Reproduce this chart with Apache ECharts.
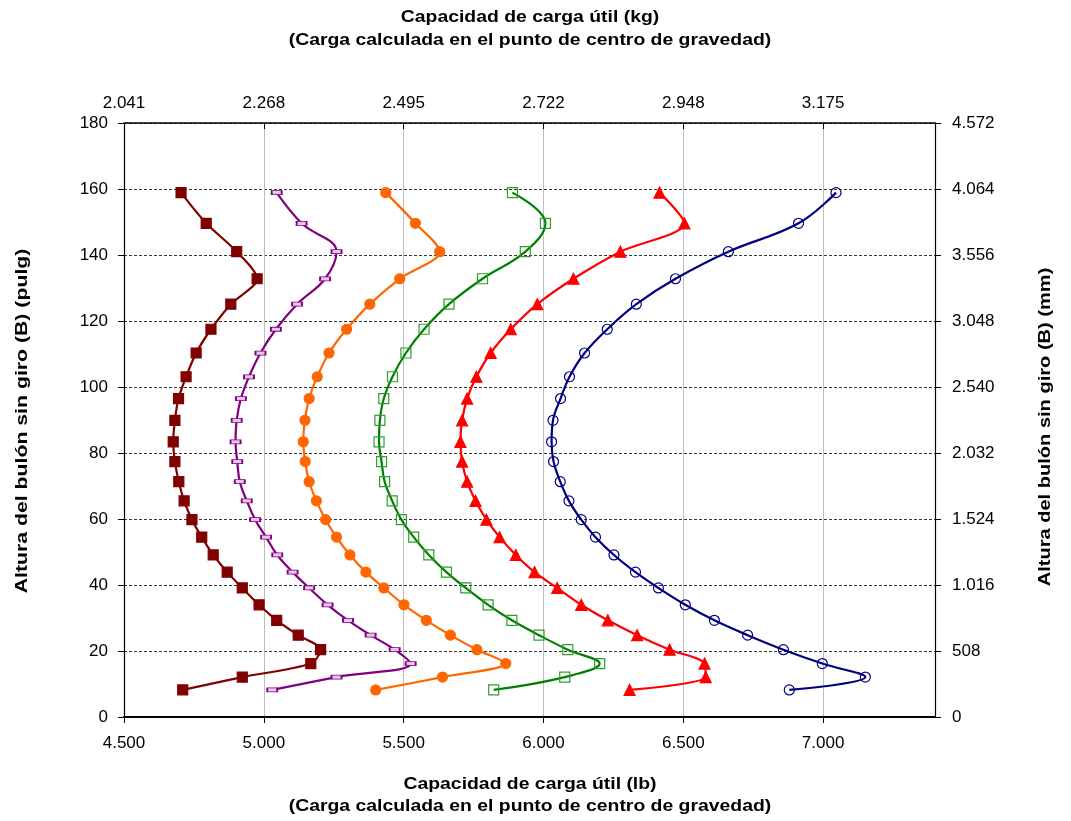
<!DOCTYPE html>
<html>
<head>
<meta charset="utf-8">
<script src="https://cdn.jsdelivr.net/npm/echarts@6/dist/echarts.min.js"></script>
<style>html,body{margin:0;padding:0;background:#fff;}#c{width:1071px;height:821px;}</style>
</head>
<body>
<div id="c"></div>
<script>
// Heights (pulg), shared by all curves, from bottom to top
const heights = [8.2, 12.1, 16.2, 20.4, 24.8, 29.3, 34.0, 39.1, 43.9, 49.1, 54.5, 59.8, 65.5, 71.3, 77.4, 83.4, 89.9, 96.5, 103.1, 110.3, 117.5, 125.1, 132.8, 141.0, 149.6, 158.9];
// Capacity (lb) for each curve, same order as heights
const capDarkRed = [4710, 4923, 5168, 5203, 5123, 5046, 4983, 4923, 4869, 4819, 4778, 4743, 4715, 4696, 4682, 4676, 4682, 4695, 4722, 4758, 4811, 4882, 4976, 4903, 4794, 4704];
const capPurple  = [5030, 5260, 5525, 5468, 5382, 5301, 5228, 5162, 5103, 5048, 5008, 4969, 4939, 4914, 4905, 4899, 4903, 4918, 4947, 4988, 5043, 5119, 5219, 5260, 5135, 5046];
const capOrange  = [5400, 5639, 5865, 5762, 5667, 5581, 5501, 5429, 5365, 5308, 5260, 5221, 5188, 5162, 5148, 5141, 5147, 5162, 5191, 5233, 5296, 5379, 5486, 5629, 5542, 5436];
const capGreen   = [5822, 6076, 6201, 6087, 5984, 5887, 5802, 5722, 5653, 5590, 5536, 5492, 5459, 5432, 5421, 5412, 5415, 5429, 5460, 5508, 5573, 5662, 5782, 5935, 6007, 5889];
const capRed     = [6308, 6580, 6576, 6451, 6335, 6230, 6135, 6049, 5968, 5901, 5843, 5796, 5757, 5727, 5709, 5703, 5709, 5727, 5760, 5811, 5883, 5978, 6107, 6275, 6504, 6415];
const capNavy    = [6879, 7151, 6997, 6858, 6730, 6611, 6507, 6411, 6329, 6252, 6186, 6135, 6091, 6060, 6036, 6029, 6034, 6061, 6093, 6147, 6228, 6332, 6472, 6661, 6912, 7046];
// Tick labels
const lbLabels = ['4.500', '5.000', '5.500', '6.000', '6.500', '7.000'];
const kgLabels = ['2.041', '2.268', '2.495', '2.722', '2.948', '3.175'];
const mmLabels = ['0', '508', '1.016', '1.524', '2.032', '2.540', '3.048', '3.556', '4.064', '4.572'];
// Titles
const titleTop = ['Capacidad de carga útil (kg)', '(Carga calculada en el punto de centro de gravedad)'];
const titleBottom = ['Capacidad de carga útil (lb)', '(Carga calculada en el punto de centro de gravedad)'];
const titleLeft = 'Altura del bulón sin giro (B) (pulg)';
const titleRight = 'Altura del bulón sin giro (B) (mm)';

const FONT = '"Liberation Sans", Arial, sans-serif';
const chart = echarts.init(document.getElementById('c'), null, {renderer: 'canvas'});

function pairs(xs) { return xs.map((x, i) => [x, heights[i]]); }
function mk(name, xs, color, symbol, size, fill, border, smooth) {
  return {
    name: name, type: 'line', xAxisIndex: 0, yAxisIndex: 0,
    data: pairs(xs), smooth: smooth, symbol: symbol, symbolSize: size,
    showAllSymbol: true,
    lineStyle: {color: color, width: 2.2},
    itemStyle: {color: fill, borderColor: border, borderWidth: 1.2},
    z: 3
  };
}
const labelStyle = {color: '#000', fontFamily: FONT, fontSize: 17};
const TFONT = 'bold 17px ' + FONT;
function ttl(text, x, y, rot, sx) {
  return {type: 'text', x: x, y: y, rotation: rot, scaleX: sx, scaleY: 1,
    style: {text: text, font: TFONT, fill: '#000', align: 'center', verticalAlign: 'middle'}};
}

chart.setOption({
  animation: false,
  backgroundColor: '#fff',
  grid: {left: 124, right: 136, top: 123, bottom: 104, containLabel: false},
  xAxis: [
    {type: 'value', position: 'bottom', min: 4500, max: 7400, interval: 500,
     axisLine: {show: true, onZero: false, lineStyle: {color: '#000', width: 2}},
     axisTick: {show: true, length: 6, lineStyle: {color: '#000'}},
     axisLabel: Object.assign({margin: 18, showMaxLabel: false,
       formatter: v => { const i = Math.round((v - 4500) / 500); return (v - 4500) % 500 === 0 && lbLabels[i] ? lbLabels[i] : ''; }}, labelStyle),
     splitLine: {show: true, lineStyle: {color: '#bdbdbd', width: 1}}},
    {type: 'value', position: 'top', min: 4500, max: 7400, interval: 500,
     axisLine: {show: true, onZero: false, lineStyle: {color: '#000', width: 1.5}},
     axisTick: {show: true, inside: true, length: 6, lineStyle: {color: '#000'}},
     axisLabel: Object.assign({margin: 11, showMaxLabel: false,
       formatter: v => { const i = Math.round((v - 4500) / 500); return (v - 4500) % 500 === 0 && kgLabels[i] ? kgLabels[i] : ''; }}, labelStyle),
     splitLine: {show: false}}
  ],
  yAxis: [
    {type: 'value', position: 'left', min: 0, max: 180, interval: 20,
     axisLine: {show: true, onZero: false, lineStyle: {color: '#000', width: 1.2}},
     axisTick: {show: true, length: 6, lineStyle: {color: '#000'}},
     axisLabel: Object.assign({margin: 16}, labelStyle),
     splitLine: {show: true, lineStyle: {color: '#333', width: 1, type: [3, 2]}}},
    {type: 'value', position: 'right', min: 0, max: 4572, interval: 508,
     axisLine: {show: true, onZero: false, lineStyle: {color: '#000', width: 1.2}},
     axisTick: {show: true, length: 6, lineStyle: {color: '#000'}},
     axisLabel: Object.assign({margin: 17,
       formatter: v => { const i = Math.round(v / 508); return mmLabels[i] !== undefined ? mmLabels[i] : ''; }}, labelStyle),
     splitLine: {show: false}}
  ],
  series: [
    mk('s1', capDarkRed, '#800000', 'rect', 10, '#800000', '#800000', 0.3),
    mk('s2', capPurple, '#800080', 'rect', [10, 4], '#e6c6e6', '#800080', 0.4),
    mk('s3', capOrange, '#ff6600', 'circle', 10, '#ff6600', '#ff6600', 0.3),
    mk('s4', capGreen, '#008000', 'rect', 10, 'rgba(255,255,255,0)', '#2f9e2f', 0.4),
    mk('s5', capRed, '#ff0000', 'triangle', 11, '#ff0000', '#ff0000', 0.3),
    mk('s6', capNavy, '#000080', 'circle', 10, 'rgba(255,255,255,0)', '#000080', 0.4)
  ],
  graphic: [
    ttl(titleTop[0], 530, 17, 0, 1.14),
    ttl(titleTop[1], 530, 40, 0, 1.14),
    ttl(titleBottom[0], 530, 784, 0, 1.14),
    ttl(titleBottom[1], 530, 806, 0, 1.14),
    ttl(titleLeft, 22, 421, Math.PI / 2, 1.25),
    ttl(titleRight, 1045, 427, Math.PI / 2, 1.18)
  ]
});
</script>
</body>
</html>
